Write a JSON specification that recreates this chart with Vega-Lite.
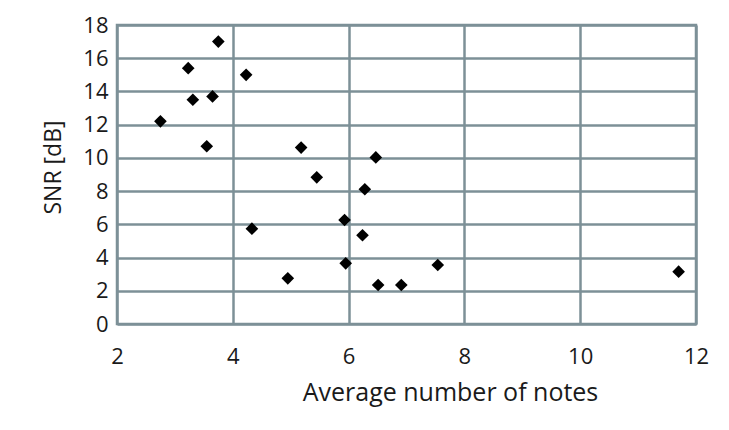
{
  "$schema": "https://vega.github.io/schema/vega-lite/v6.json",
  "width": 579,
  "height": 299,
  "autosize": {"type": "none"},
  "padding": {"left": 117, "top": 25, "right": 33, "bottom": 106},
  "background": "white",
  "config": {
    "font": "Open Sans",
    "view": {"stroke": "#7d9097", "strokeWidth": 2.5},
    "axis": {
      "domain": false,
      "ticks": false,
      "gridColor": "#7d9097",
      "gridWidth": 2.5,
      "gridOpacity": 1,
      "labelFont": "Open Sans",
      "labelFontSize": 22,
      "labelColor": "#1a1a1a",
      "labelFlush": false,
      "titleFont": "Open Sans",
      "titleFontSize": 23,
      "titleFontWeight": "normal",
      "titleColor": "#1a1a1a"
    }
  },
  "data": {
    "values": [
      {"notes": 2.75, "snr": 12.2},
      {"notes": 3.23, "snr": 15.4},
      {"notes": 3.31, "snr": 13.5},
      {"notes": 3.55, "snr": 10.7},
      {"notes": 3.65, "snr": 13.7},
      {"notes": 3.75, "snr": 17.0},
      {"notes": 4.23, "snr": 15.0},
      {"notes": 4.33, "snr": 5.74},
      {"notes": 4.95, "snr": 2.75},
      {"notes": 5.18, "snr": 10.62},
      {"notes": 5.45, "snr": 8.83},
      {"notes": 5.93, "snr": 6.26},
      {"notes": 5.95, "snr": 3.65},
      {"notes": 6.24, "snr": 5.34},
      {"notes": 6.28, "snr": 8.11},
      {"notes": 6.47, "snr": 10.03},
      {"notes": 6.51, "snr": 2.35},
      {"notes": 6.91, "snr": 2.35},
      {"notes": 7.54, "snr": 3.55},
      {"notes": 11.7, "snr": 3.15}
    ]
  },
  "mark": {"type": "point", "shape": "diamond", "filled": true, "color": "#000000", "opacity": 1, "size": 160},
  "encoding": {
    "x": {
      "field": "notes",
      "type": "quantitative",
      "scale": {"domain": [2, 12], "nice": false, "zero": false},
      "axis": {
        "values": [2, 4, 6, 8, 10, 12],
        "title": "Average number of notes",
        "labelPadding": 22,
        "labelDx": 4,
        "titleFontSize": 25,
        "titleX": 333,
        "titleY": 68,
        "titleBaseline": "middle",
        "titleAlign": "center"
      }
    },
    "y": {
      "field": "snr",
      "type": "quantitative",
      "scale": {"domain": [0, 18], "nice": false},
      "axis": {
        "values": [0, 2, 4, 6, 8, 10, 12, 14, 16, 18],
        "title": "SNR [dB]",
        "labelPadding": 9,
        "titleX": -64,
        "titleY": 142,
        "titleBaseline": "middle",
        "titleAlign": "center",
        "titleAngle": -90
      }
    }
  }
}
